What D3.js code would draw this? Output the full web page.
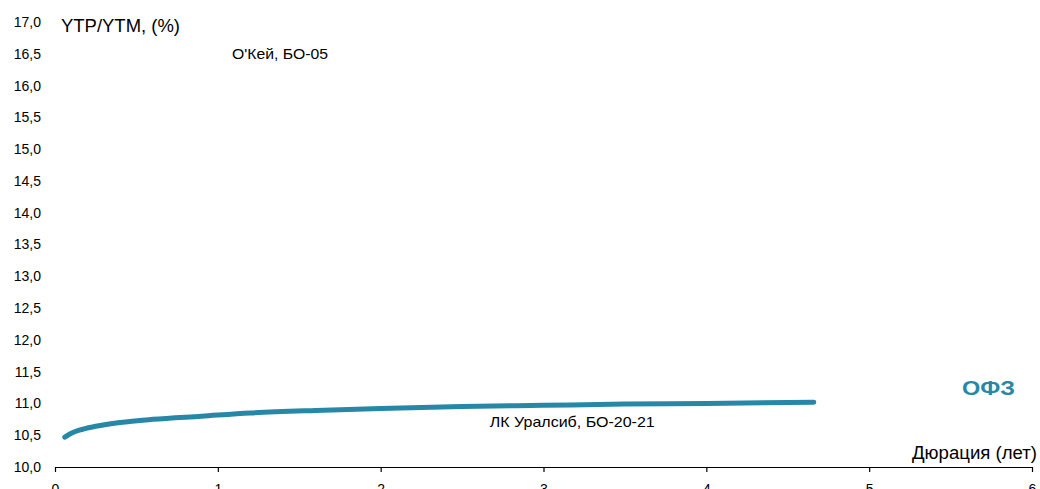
<!DOCTYPE html>
<html><head><meta charset="utf-8">
<script src="https://cdn.jsdelivr.net/npm/d3@7"></script>
<style>body{margin:0;background:#fff}svg{display:block;font-family:"Liberation Sans",Arial,sans-serif}</style>
</head><body><svg id="c" width="1040" height="489"></svg>
<script>
const durations = [0.06,0.1,0.15,0.25,0.4,0.6,0.9,1.2,1.6,2.0,2.5,3.0,3.5,4.0,4.66];
const yields    = [10.47,10.53,10.58,10.64,10.70,10.75,10.80,10.85,10.89,10.92,10.95,10.97,10.99,11.00,11.02];
const xTicks = [0,1,2,3,4,5,6];
const yTicks = [10,10.5,11,11.5,12,12.5,13,13.5,14,14.5,15,15.5,16,16.5,17];
const labels = [
  {text:"О'Кей, БО-05", x:1.087, y:16.42, len:96},
  {text:"ЛК Уралсиб, БО-20-21", x:2.67, y:10.63, len:165}
];
const svg = d3.select("#c");
const x = d3.scaleLinear().domain([0,6]).range([55,1032]);
const y = d3.scaleLinear().domain([10,17]).range([467,22]);
const fmt = v => d3.format(".1f")(v).replace(".",",");

// x axis
const xa = svg.append("g").attr("transform","translate(0,467)")
  .call(d3.axisBottom(x).tickValues(xTicks).tickSize(5).tickSizeOuter(0).tickPadding(12).tickFormat(d=>d));
xa.select(".domain").attr("stroke","#000").attr("stroke-width",1.2);
xa.selectAll(".tick line").attr("stroke","#000").attr("stroke-width",1.2);
xa.selectAll("text").attr("font-size",14).attr("fill","#000").attr("font-family","Liberation Sans, Arial, sans-serif");

// y axis (labels only)
const ya = svg.append("g").attr("transform","translate(41,0)")
  .call(d3.axisLeft(y).tickValues(yTicks).tickSize(0).tickPadding(0).tickFormat(fmt));
ya.select(".domain").remove();
ya.selectAll("text").attr("font-size",14).attr("fill","#000").attr("font-family","Liberation Sans, Arial, sans-serif");

// curve
const line = d3.line().x((d,i)=>x(durations[i])).y(d=>y(d)).curve(d3.curveMonotoneX);
svg.append("path").datum(yields).attr("d",line).attr("fill","none")
  .attr("stroke","#2787a6").attr("stroke-width",5).attr("stroke-linecap","round");

// texts
svg.append("text").attr("x",61).attr("y",32).attr("font-size",18)
  .attr("textLength",119).attr("lengthAdjust","spacingAndGlyphs").text("YTP/YTM, (%)");
svg.append("text").attr("x",912).attr("y",459).attr("font-size",17.5)
  .attr("textLength",125).attr("lengthAdjust","spacingAndGlyphs").text("Дюрация (лет)");
svg.append("text").attr("x",962).attr("y",395).attr("font-size",20).attr("font-weight","bold").attr("fill","#2787a6")
  .attr("textLength",53).attr("lengthAdjust","spacingAndGlyphs").text("ОФЗ");
svg.selectAll(".lbl").data(labels).enter().append("text").attr("class","lbl")
  .attr("x",d=>x(d.x)).attr("y",d=>y(d.y)).attr("font-size",14.5)
  .attr("textLength",d=>d.len).attr("lengthAdjust","spacingAndGlyphs").text(d=>d.text);
</script></body></html>
